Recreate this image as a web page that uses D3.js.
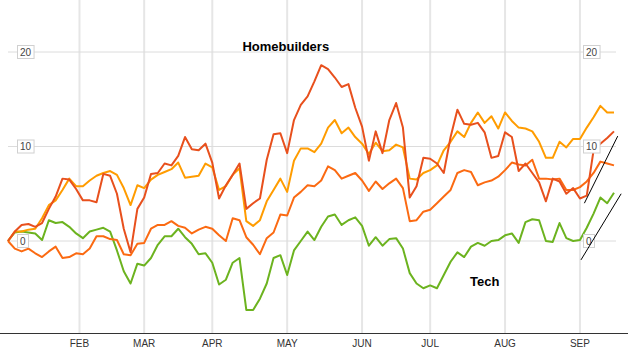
<!DOCTYPE html>
<html>
<head>
<meta charset="utf-8">
<script src="https://cdn.jsdelivr.net/npm/d3@7"></script>
<style>
  html, body { margin: 0; padding: 0; background: #fff; }
  svg { display: block; }
</style>
</head>
<body>
<svg id="chart" width="628" height="350"></svg>
<script>
// ---- DATA (sampled every 2 trading days) ----
const step = 2;
const months = ["FEB", "MAR", "APR", "MAY", "JUN", "JUL", "AUG", "SEP"];
const monthIndex = [21, 40, 60, 82, 104, 124, 146, 168];
const yTicks = [0, 10, 20];

const amber = [0,1.0,1.0,1.2,1.3,2.4,3.8,4.3,5.4,6.6,5.8,5.8,6.4,6.9,7.2,7.4,7.0,5.6,3.8,5.9,
  5.6,6.5,7.0,7.3,7.6,8.3,6.7,6.8,6.9,8.2,7.8,5.4,5.8,7.0,7.7,2.1,1.6,2.2,4.2,5.4,
  6.6,5.2,8.5,9.8,9.8,9.4,10.3,12.0,12.8,11.4,12.0,11.0,10.3,9.2,10.4,9.5,9.6,10.2,9.9,6.6,
  6.5,7.2,7.5,8.0,9.6,10.5,11.6,11.0,12.5,13.6,12.5,13.2,11.9,13.6,12.7,12.0,11.9,11.6,10.5,8.8,
  8.8,10.5,9.9,10.8,10.8,12.0,13.1,14.3,13.6,13.6];
const red = [0,1.0,1.7,1.8,1.5,1.9,3.4,4.7,6.6,6.5,5.5,4.3,4.3,4.1,7.1,6.9,5.0,1.3,-1.2,3.4,
  4.6,7.1,7.2,8.2,8.0,9.0,11.0,9.7,9.6,10.3,8.3,4.5,5.9,7.0,8.2,3.4,4.0,4.5,8.6,11.3,
  11.4,9.3,12.8,14.4,15.3,16.9,18.6,18.2,17.3,16.3,16.6,14.1,12.1,8.5,11.6,9.3,12.8,14.6,12.0,4.6,
  5.8,8.8,8.7,8.2,7.2,11.0,13.9,12.4,12.3,12.5,11.5,8.8,9.0,11.5,11.0,7.4,8.2,7.2,6.2,4.2,
  6.6,6.3,5.0,5.6,4.5,4.8,9.6,10.3,10.9,11.6];
const orange = [0,-0.8,-1.1,-0.8,-1.3,-1.7,-1.1,-0.6,-1.8,-1.7,-1.3,-1.4,-0.8,0.5,0.5,0.2,0.1,-1.4,-1.5,-0.3,
  -0.2,1.3,1.7,1.7,2.1,1.6,1.4,0.8,1.2,1.5,1.3,0.6,0.0,2.4,2.2,0.4,-0.4,-1.4,0.3,0.9,
  2.8,2.7,4.6,5.2,5.9,5.8,6.4,7.9,7.5,6.6,6.9,7.2,6.4,5.3,6.3,5.5,6.1,6.6,5.6,2.1,
  2.2,3.1,3.3,4.0,4.7,5.4,7.2,7.5,7.3,5.9,6.2,6.4,6.8,7.5,8.3,8.1,8.0,8.6,6.6,6.6,
  6.5,6.6,5.4,5.4,5.7,6.3,7.2,8.4,8.2,8.0];
const tech = [0,0.9,1.0,0.9,0.8,0.1,2.2,1.9,2.0,1.5,0.8,0.3,1.0,1.2,1.4,1.0,-1.0,-3.2,-4.5,-2.4,
  -2.6,-1.8,-0.4,0.5,0.5,1.3,0.4,-0.3,-1.4,-1.3,-2.3,-4.6,-4.1,-2.3,-1.8,-7.3,-7.3,-6.1,-4.5,-1.8,
  -1.5,-3.6,-1.0,0.0,1.0,0.1,1.5,2.6,2.8,1.7,2.2,2.5,1.6,-0.5,0.4,-0.5,0.2,0.3,-0.8,-3.4,
  -4.5,-5.0,-4.7,-5.0,-3.6,-2.2,-1.2,-1.7,-0.6,-0.2,-0.5,0.0,0.1,0.6,0.8,-0.2,2.0,2.3,2.2,0.0,
  -0.1,1.9,0.3,0.0,0.1,1.4,2.9,4.6,4.0,5.1];

const seriesNames = ["Tech", "Orange", "Amber", "Red"];
const seriesValues = [tech, orange, amber, red];
const seriesColors = ["#6cb31f", "#fb6a12", "#ff9c00", "#e8501d"];

// trend annotations: [index, value] pairs
const trendLines = [
  [[169.3, 4.0], [179.1, 11.1]],
  [[168.3, -2.0], [180.1, 5.0]]
];
const labels = [
  { text: "Homebuilders", index: 81.6, value: 20.15, anchor: "middle" },
  { text: "Tech", index: 135.7, value: -4.8, anchor: "start" }
];

// ---- CHART ----
const W = 628, H = 350;
const svg = d3.select("#chart");
const x = d3.scaleLinear().domain([0, 178]).range([8, 614]);
const y = d3.scaleLinear().domain([0, 20]).range([241, 52]);
const axisY = 333;

// vertical month gridlines
svg.append("g").selectAll("line").data(monthIndex).join("line")
  .attr("x1", d => x(d)).attr("x2", d => x(d))
  .attr("y1", 0).attr("y2", axisY)
  .attr("stroke", "#e6e6e6").attr("stroke-width", 2);

// horizontal gridlines
svg.append("g").selectAll("line").data(yTicks).join("line")
  .attr("x1", 8).attr("x2", 616)
  .attr("y1", d => y(d)).attr("y2", d => y(d))
  .attr("stroke", "#dcdcdc").attr("stroke-width", 1);

// series
const line = d3.line().x((d, i) => x(i * step)).y(d => y(d));
svg.append("g").selectAll("path").data(seriesValues).join("path")
  .attr("d", d => line(d))
  .attr("fill", "none")
  .attr("stroke", (d, i) => seriesColors[i])
  .attr("stroke-width", 2)
  .attr("stroke-linejoin", "round");

// y labels boxes (left and right)
function yLabels(x0) {
  const g = svg.append("g");
  yTicks.forEach(t => {
    const gg = g.append("g");
    const txt = gg.append("text")
      .attr("x", x0 + 3).attr("y", y(t) + 3.5)
      .attr("font-family", "Liberation Sans, Arial, sans-serif")
      .attr("font-size", 10).attr("fill", "#444")
      .text(t);
    const bb = txt.node().getBBox();
    gg.insert("rect", "text")
      .attr("x", x0 + 0.5).attr("y", y(t) - 6.5)
      .attr("width", bb.width + 5).attr("height", 13)
      .attr("fill", "#fff").attr("stroke", "#d0d0d0").attr("stroke-width", 1);
  });
}
yLabels(17);
yLabels(583);

// trend lines
svg.append("g").selectAll("line").data(trendLines).join("line")
  .attr("x1", d => x(d[0][0])).attr("y1", d => y(d[0][1]))
  .attr("x2", d => x(d[1][0])).attr("y2", d => y(d[1][1]))
  .attr("stroke", "#000").attr("stroke-width", 1);

// x axis
svg.append("line").attr("x1", 0).attr("x2", W).attr("y1", axisY + 0.5).attr("y2", axisY + 0.5)
  .attr("stroke", "#333").attr("stroke-width", 1);
svg.append("g").selectAll("text").data(monthIndex).join("text")
  .attr("x", d => x(d)).attr("y", 347)
  .attr("text-anchor", "middle")
  .attr("font-family", "Liberation Sans Narrow, Arial Narrow, sans-serif")
  .attr("font-size", 10).attr("fill", "#333")
  .text((d, i) => months[i]);

// labels
svg.append("g").selectAll("text").data(labels).join("text")
  .attr("x", d => x(d.index)).attr("y", d => y(d.value))
  .attr("text-anchor", d => d.anchor)
  .attr("font-family", "Liberation Sans, Arial, sans-serif")
  .attr("font-weight", "bold").attr("font-size", 13).attr("fill", "#000")
  .text(d => d.text);
</script>
</body>
</html>
